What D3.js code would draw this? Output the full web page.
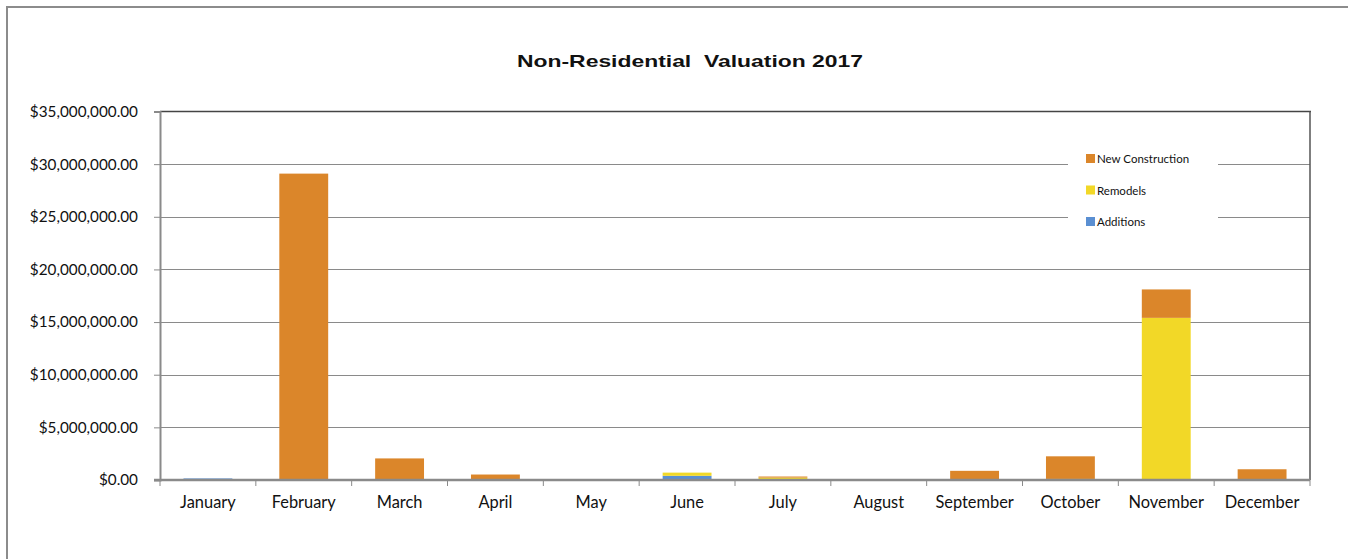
<!DOCTYPE html>
<html><head><meta charset="utf-8">
<script src="https://cdn.jsdelivr.net/npm/d3@7"></script>
<style>body{margin:0;background:#fff}svg{display:block}</style>
</head><body><svg id="c" width="1348" height="559"></svg>
<script>
const months = ["January","February","March","April","May","June","July","August","September","October","November","December"];
const additions = [150000, 0, 0, 0, 0, 400000, 0, 0, 0, 0, 0, 0];
const remodels = [0, 0, 0, 0, 0, 300000, 230000, 0, 0, 100000, 15400000, 0];
const newConstruction = [0, 29100000, 2050000, 520000, 0, 0, 100000, 0, 870000, 2150000, 2700000, 1020000];
const seriesNames = ["Additions","Remodels","New Construction"];
const colors = {"Additions":"#5A8FD2","Remodels":"#F2D827","New Construction":"#DB862A"};
const yTicks = [0,5000000,10000000,15000000,20000000,25000000,30000000,35000000];

const svg = d3.select("#c");
const L = 160, R = 1310, T = 111.5, B = 480;
const rows = months.map((m,i)=>({month:m, "Additions":additions[i], "Remodels":remodels[i], "New Construction":newConstruction[i]}));
const stack = d3.stack().keys(seriesNames)(rows);

const x = d3.scaleBand().domain(months).range([L,R]).paddingInner(0.49).paddingOuter(0.245);
const xt = d3.scaleBand().domain(months).range([L,R]);
const y = d3.scaleLinear().domain([0,35000000]).range([B,T]);
const FONT = "Lato, 'Open Sans', sans-serif";

// outer border
svg.append("rect").attr("x",7).attr("y",7).attr("width",1360).attr("height",560)
  .attr("fill","none").attr("stroke","#8c8c8c").attr("stroke-width",2);

// gridlines
svg.append("g").selectAll("line").data(yTicks.filter(d=>d>0 && d<35000000)).join("line")
  .attr("x1",L).attr("x2",R).attr("y1",d=>Math.round(y(d))+0.5).attr("y2",d=>Math.round(y(d))+0.5)
  .attr("stroke","#8a8a8a").attr("stroke-width",1);

// bars
svg.append("g").selectAll("g").data(stack).join("g")
  .attr("fill",d=>colors[d.key])
  .selectAll("rect").data(d=>d.filter(p=>p[1]-p[0]>0)).join("rect")
  .attr("x",d=>x(d.data.month)).attr("width",x.bandwidth())
  .attr("y",d=>y(d[1])).attr("height",d=>y(d[0])-y(d[1]));

// top and right border of plot
svg.append("line").attr("x1",L).attr("x2",R+1).attr("y1",T).attr("y2",T).attr("stroke","#444").attr("stroke-width",1.5);
svg.append("line").attr("x1",R).attr("x2",R).attr("y1",T).attr("y2",B).attr("stroke","#555").attr("stroke-width",1.5);

// y axis
const yAxis = svg.append("g").attr("transform",`translate(${L},0)`)
  .call(d3.axisLeft(y).tickValues(yTicks).tickSize(6).tickPadding(16)
    .tickFormat(d=>"$"+d3.format(",.2f")(d)));
yAxis.select(".domain").attr("stroke","#8a8a8a").attr("stroke-width",2);
yAxis.selectAll(".tick line").attr("stroke","#8a8a8a");
yAxis.selectAll("text").attr("font-family",FONT).attr("font-size","15.3px").attr("fill","#111");

// x axis
const xAxis = svg.append("g").attr("transform",`translate(0,${B})`)
  .call(d3.axisBottom(xt).tickSize(0).tickPadding(16));
xAxis.select(".domain").remove();
xAxis.selectAll("text").attr("font-family",FONT).attr("font-size","16.4px").attr("fill","#111");
svg.append("line").attr("x1",L-6).attr("x2",R).attr("y1",B).attr("y2",B).attr("stroke","#8a8a8a").attr("stroke-width",2.5);
svg.append("g").selectAll("line").data(d3.range(months.length+1)).join("line")
  .attr("x1",i=>L+i*xt.step()).attr("x2",i=>L+i*xt.step())
  .attr("y1",B).attr("y2",B+6).attr("stroke","#8a8a8a").attr("stroke-width",1);

// legend
const legendItems = ["New Construction","Remodels","Additions"];
svg.append("rect").attr("x",1068).attr("y",146).attr("width",150).attr("height",90).attr("fill","#fff");
const lg = svg.append("g").selectAll("g").data(legendItems).join("g")
  .attr("transform",(d,i)=>`translate(1086,${159+i*31.5})`);
lg.append("rect").attr("x",0).attr("y",-5).attr("width",9).attr("height",9).attr("fill",d=>colors[d]);
lg.append("text").attr("x",11).attr("y",0).attr("dy","0.35em").text(d=>d)
  .attr("font-family",FONT).attr("font-size","11.5px").attr("fill","#111");

// title
svg.append("text").attr("x",517).attr("y",67)
  .attr("font-family","'Liberation Sans', Arial, sans-serif").attr("font-weight","bold").attr("font-size","17px")
  .attr("textLength",346).attr("lengthAdjust","spacingAndGlyphs")
  .attr("fill","#111").attr("xml:space","preserve").text("Non-Residential  Valuation 2017");
</script></body></html>
